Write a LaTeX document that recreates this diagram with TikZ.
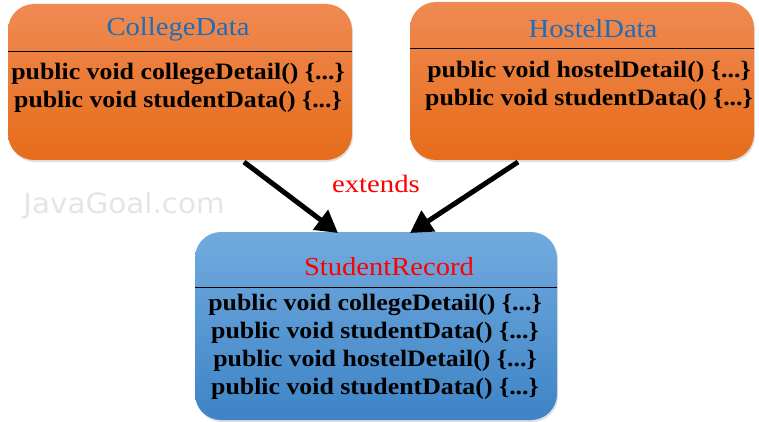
\documentclass[tikz,border=0pt]{standalone}
\usepackage{fontspec}
\setmainfont{Liberation Serif}
\newfontfamily\methfont[FakeStretch=1.1]{Liberation Serif}
\newfontfamily\ttlfont[FakeStretch=1.1]{Liberation Serif}
\newfontfamily\extfont[FakeStretch=1.15]{Liberation Serif}
\newfontfamily\wmfont[FakeStretch=1.05]{DejaVu Sans}
\usetikzlibrary{arrows.meta,shadows}
\definecolor{orTop}{HTML}{F08A52}
\definecolor{orBot}{HTML}{E66C1A}
\definecolor{blTop}{HTML}{72AADE}
\definecolor{blBot}{HTML}{3D84C6}
\definecolor{titleBlue}{HTML}{1F6DB8}
\begin{document}
\begin{tikzpicture}[x=1pt,y=-1pt,
  orbox/.style={rounded corners=26pt, top color=orTop, bottom color=orBot, draw=none, drop shadow={shadow xshift=1pt,shadow yshift=-2pt,opacity=0.25}},
  blbox/.style={rounded corners=26pt, top color=blTop, bottom color=blBot, draw=none, drop shadow={shadow xshift=1pt,shadow yshift=-2pt,opacity=0.25}},
  ttl/.style={font=\ttlfont\fontsize{26}{28}\selectfont, text=titleBlue},
  meth/.style={font=\methfont\fontsize{23.5}{28}\selectfont\bfseries, align=center},
  sep/.style={line width=1pt, black},
  inh/.style={line width=5pt, -{Triangle[length=22pt,width=24pt]}}
]
\useasboundingbox (0,0) rectangle (759,422);
% boxes
\path[orbox] (8,4) rectangle (352,160);
\path[orbox] (410,2) rectangle (754,160);
\path[blbox] (195,232) rectangle (557,420);
% separators
\draw[sep] (8,52) -- (352,52);
\draw[sep] (410,49) -- (754,49);
\draw[sep] (195,287) -- (557,287);
% titles
\node[ttl] (t1) at (178,29) {CollegeData};
\node[ttl] (t2) at (593,29) {HostelData};
\node[ttl, text=red] (t3) at (389,267) {StudentRecord};
% methods
\node[meth] (m1) at (178,88) {public void collegeDetail() \{...\}\\public void studentData() \{...\}};
\node[meth] (m2) at (589,86) {public void hostelDetail() \{...\}\\public void studentData() \{...\}};
\node[meth] (m3) at (375,347) {public void collegeDetail() \{...\}\\public void studentData() \{...\}\\public void hostelDetail() \{...\}\\public void studentData() \{...\}};
% watermark
\node[font=\wmfont\fontsize{28}{30}\selectfont, text=black!10] (wm) at (124,206) {JavaGoal.com};
% arrows
\coordinate (a1s) at (244,162);
\coordinate (a1e) at (338,233);
\coordinate (a2s) at (518,162);
\coordinate (a2e) at (410,233);
\draw[inh] (a1s) -- (a1e);
\draw[inh] (a2s) -- (a2e);
\node[font=\extfont\fontsize{25}{28}\selectfont, text=red] (ext) at (376,184) {extends};
\end{tikzpicture}
\end{document}
